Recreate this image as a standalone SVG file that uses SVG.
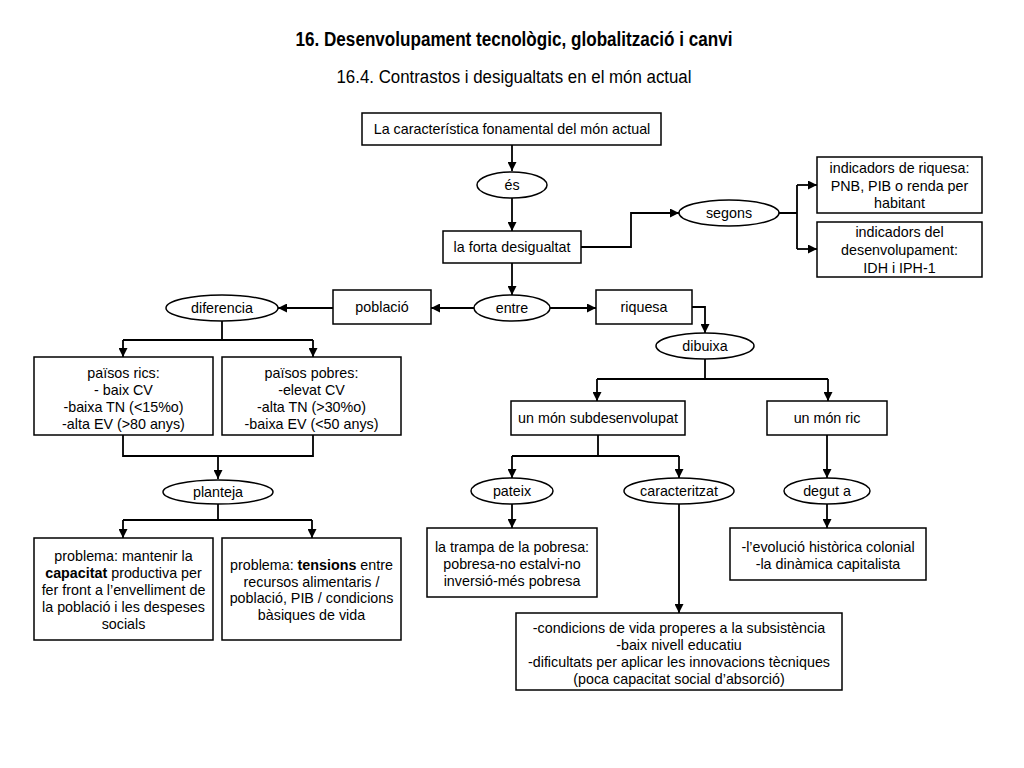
<svg xmlns="http://www.w3.org/2000/svg" width="1024" height="768" viewBox="0 0 1024 768">
<defs>
<marker id="ah" viewBox="0 0 10 10" refX="10" refY="5" markerWidth="9" markerHeight="9" markerUnits="userSpaceOnUse" orient="auto">
<path d="M0,0 L10,5 L0,10 z" fill="#000"/>
</marker>
<style>
.box{fill:#fff;stroke:#000;stroke-width:1.5}
.ell{fill:#fff;stroke:#000;stroke-width:1.5}
.t{font-family:"Liberation Sans",Arial,sans-serif;font-size:14.3px;fill:#000;text-anchor:middle}
.c{fill:none;stroke:#000;stroke-width:1.8}
.a{marker-end:url(#ah)}
.title{font-family:"Liberation Sans Narrow","Liberation Sans",Arial,sans-serif;font-size:20px;font-weight:bold;text-anchor:middle;fill:#000}
.sub{font-family:"Liberation Sans Narrow","Liberation Sans",Arial,sans-serif;font-size:18px;text-anchor:middle;fill:#000}
</style>
</defs>
<rect width="1024" height="768" fill="#fff"/>
<text class="title" x="514" y="46" textLength="437" lengthAdjust="spacingAndGlyphs">16. Desenvolupament tecnològic, globalització i canvi</text>
<text class="sub" x="514" y="83" textLength="355" lengthAdjust="spacingAndGlyphs">16.4. Contrastos i desigualtats en el món actual</text>

<g id="connectors">
<path class="c a" d="M512,145 V171"/>
<path class="c a" d="M512,198 V231"/>
<path class="c a" d="M581,247 H631 V213 H679"/>
<path class="c" d="M779,213 H797 M797,185 V249"/>
<path class="c a" d="M797,185 H817"/>
<path class="c a" d="M797,249 H817"/>
<path class="c a" d="M512,263 V295"/>
<path class="c a" d="M474,308 H431"/>
<path class="c a" d="M333,308 H278"/>
<path class="c a" d="M550,308 H596"/>
<path class="c a" d="M692,307 H705 V333"/>
<path class="c" d="M705,359 V379 M597,379 H828"/>
<path class="c a" d="M597,379 V401"/>
<path class="c a" d="M828,379 V401"/>
<path class="c" d="M598,435 V456 M512,456 H679"/>
<path class="c a" d="M512,456 V478"/>
<path class="c a" d="M679,456 V478"/>
<path class="c a" d="M827,435 V478"/>
<path class="c a" d="M512,504 V528"/>
<path class="c a" d="M679,504 V613"/>
<path class="c a" d="M827,504 V528"/>
<path class="c" d="M222,321 V340 M123,340 H313"/>
<path class="c a" d="M123,340 V357"/>
<path class="c a" d="M313,340 V357"/>
<path class="c" d="M123,435 V456 H313 V435"/>
<path class="c a" d="M218,456 V479"/>
<path class="c" d="M218,504 V520 M123,520 H312"/>
<path class="c a" d="M123,520 V538"/>
<path class="c a" d="M312,520 V538"/>
</g>

<g id="n-caracteristica">
<rect class="box" x="362" y="113" width="299" height="32"/>
<text class="t" x="512" y="134">La característica fonamental del món actual</text>
</g>
<g id="n-es">
<ellipse class="ell" cx="512" cy="185" rx="35" ry="13"/>
<text class="t" x="512" y="190">és</text>
</g>
<g id="n-desigualtat">
<rect class="box" x="443" y="231" width="138" height="32"/>
<text class="t" x="512" y="252">la forta desigualtat</text>
</g>
<g id="n-segons">
<ellipse class="ell" cx="729" cy="213" rx="50" ry="13"/>
<text class="t" x="729" y="218">segons</text>
</g>
<g id="n-riquesa-ind">
<rect class="box" x="817" y="157" width="165" height="56"/>
<text class="t" x="899.5" y="173">indicadors de riquesa:</text>
<text class="t" x="899.5" y="191">PNB, PIB o renda per</text>
<text class="t" x="899.5" y="208">habitant</text>
</g>
<g id="n-desenv-ind">
<rect class="box" x="817" y="222" width="165" height="55"/>
<text class="t" x="899.5" y="237">indicadors del</text>
<text class="t" x="899.5" y="255">desenvolupament:</text>
<text class="t" x="899.5" y="273">IDH i IPH-1</text>
</g>
<g id="n-entre">
<ellipse class="ell" cx="512" cy="308" rx="38" ry="13"/>
<text class="t" x="512" y="313">entre</text>
</g>
<g id="n-poblacio">
<rect class="box" x="333" y="290" width="98" height="34"/>
<text class="t" x="382" y="312">població</text>
</g>
<g id="n-diferencia">
<ellipse class="ell" cx="222" cy="308" rx="56" ry="13"/>
<text class="t" x="222" y="313">diferencia</text>
</g>
<g id="n-riquesa">
<rect class="box" x="596" y="290" width="96" height="34"/>
<text class="t" x="644" y="312">riquesa</text>
</g>
<g id="n-dibuixa">
<ellipse class="ell" cx="705" cy="346" rx="49" ry="13"/>
<text class="t" x="705" y="351">dibuixa</text>
</g>
<g id="n-subdesenvolupat">
<rect class="box" x="511" y="401" width="174" height="34"/>
<text class="t" x="598" y="423">un món subdesenvolupat</text>
</g>
<g id="n-ric">
<rect class="box" x="767" y="401" width="120" height="34"/>
<text class="t" x="827" y="423">un món ric</text>
</g>
<g id="n-pateix">
<ellipse class="ell" cx="512" cy="491" rx="41" ry="13"/>
<text class="t" x="512" y="496">pateix</text>
</g>
<g id="n-caracteritzat">
<ellipse class="ell" cx="679" cy="491" rx="55" ry="13"/>
<text class="t" x="679" y="496">caracteritzat</text>
</g>
<g id="n-degut">
<ellipse class="ell" cx="827" cy="491" rx="43" ry="13"/>
<text class="t" x="827" y="496">degut a</text>
</g>
<g id="n-trampa">
<rect class="box" x="427" y="528" width="170" height="69"/>
<text class="t" x="512" y="552">la trampa de la pobresa:</text>
<text class="t" x="512" y="569">pobresa-no estalvi-no</text>
<text class="t" x="512" y="586">inversió-més pobresa</text>
</g>
<g id="n-condicions">
<rect class="box" x="516" y="613" width="326" height="77"/>
<text class="t" x="679" y="633">-condicions de vida properes a la subsistència</text>
<text class="t" x="679" y="650">-baix nivell educatiu</text>
<text class="t" x="679" y="667">-dificultats per aplicar les innovacions tècniques</text>
<text class="t" x="679" y="684">(poca capacitat social d’absorció)</text>
</g>
<g id="n-evolucio">
<rect class="box" x="730" y="528" width="196" height="52"/>
<text class="t" x="828" y="552">-l’evolució històrica colonial</text>
<text class="t" x="828" y="569">-la dinàmica capitalista</text>
</g>
<g id="n-rics">
<rect class="box" x="34" y="357" width="179" height="78"/>
<text class="t" x="123.5" y="378">països rics:</text>
<text class="t" x="123.5" y="395">- baix CV</text>
<text class="t" x="123.5" y="412">-baixa TN (&lt;15%o)</text>
<text class="t" x="123.5" y="429">-alta EV (&gt;80 anys)</text>
</g>
<g id="n-pobres">
<rect class="box" x="222" y="357" width="179" height="78"/>
<text class="t" x="311.5" y="378">països pobres:</text>
<text class="t" x="311.5" y="395">-elevat CV</text>
<text class="t" x="311.5" y="412">-alta TN (&gt;30%o)</text>
<text class="t" x="311.5" y="429">-baixa EV (&lt;50 anys)</text>
</g>
<g id="n-planteja">
<ellipse class="ell" cx="218" cy="492" rx="55" ry="12"/>
<text class="t" x="218" y="497">planteja</text>
</g>
<g id="n-problema1">
<rect class="box" x="34" y="538" width="179" height="102"/>
<text class="t" x="123.5" y="561">problema: mantenir la</text>
<text class="t" x="123.5" y="578"><tspan font-weight="bold">capacitat</tspan> productiva per</text>
<text class="t" x="123.5" y="595">fer front a l’envelliment de</text>
<text class="t" x="123.5" y="612">la població i les despeses</text>
<text class="t" x="123.5" y="629">socials</text>
</g>
<g id="n-problema2">
<rect class="box" x="222" y="538" width="179" height="102"/>
<text class="t" x="311.5" y="570">problema: <tspan font-weight="bold">tensions</tspan> entre</text>
<text class="t" x="311.5" y="587">recursos alimentaris /</text>
<text class="t" x="311.5" y="603">població, PIB / condicions</text>
<text class="t" x="311.5" y="620">bàsiques de vida</text>
</g>
</svg>
